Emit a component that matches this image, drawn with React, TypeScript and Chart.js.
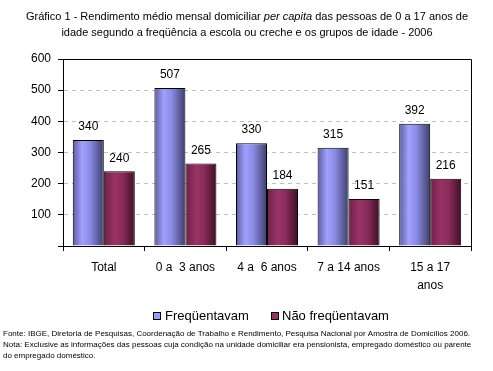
import React, { useEffect, useRef } from "react";
import { Chart, registerables } from "chart.js";
Chart.register(...registerables);

const categories: (string | string[])[] = ["Total", "0 a  3 anos", "4 a  6 anos", "7 a 14 anos", ["15 a 17", "anos"]];
const frequentavam = [340, 507, 330, 315, 392];
const naoFrequentavam = [240, 265, 184, 151, 216];
const seriesNames = ["Freqüentavam", "Não freqüentavam"];
const yMin = 0;
const yMax = 600;
const yStep = 100;
const titleLine1 = ["Gráfico 1 - Rendimento médio mensal domiciliar ", "per capita", " das pessoas de 0 a 17 anos de"];
const titleLine2 = "idade segundo a freqüência a escola ou creche e os grupos de idade - 2006";
const footerLines = [
  "Fonte: IBGE, Diretoria de Pesquisas, Coordenação de Trabalho e Rendimento, Pesquisa Nacional por Amostra de Domicílios 2006.",
  "Nota: Exclusive as informações das pessoas cuja condição na unidade domiciliar era pensionista, empregado doméstico ou parente",
  "do empregado doméstico.",
];

const FONT = "'Liberation Sans', Arial, sans-serif";
const CAT_PCT = 0.76;
const blueStops: [number, string][] = [[0, "#5c5c9c"], [0.3, "#a0a0ff"], [0.55, "#8c8ce6"], [1, "#3e3e6c"]];
const redStops: [number, string][] = [[0, "#6e2048"], [0.35, "#993366"], [0.6, "#8a2c5a"], [1, "#3e0f28"]];
const blueLegend = "#9999ff";
const redLegend = "#993366";

function barGradient(c: any, dsIndex: number, stops: [number, string][]) {
  const chart = c.chart;
  const xs = chart.scales && chart.scales.x;
  if (!xs || c.dataIndex === undefined) return stops[1][1];
  const n = categories.length;
  const catW = (xs.right - xs.left) / n;
  const w = (catW * CAT_PCT) / 2;
  const center = xs.getPixelForValue(c.dataIndex);
  const left = dsIndex === 0 ? center - w : center;
  if (!isFinite(left) || !isFinite(w) || w <= 0) return stops[1][1];
  const g = chart.ctx.createLinearGradient(left, 0, left + w, 0);
  stops.forEach(([o, col]) => g.addColorStop(o, col));
  return g;
}

const decorPlugin = {
  id: "decor",
  afterDatasetsDraw(chart: any) {
    const ctx = chart.ctx;
    ctx.save();
    ctx.fillStyle = "#000";
    ctx.font = `12px ${FONT}`;
    ctx.textAlign = "center";
    ctx.textBaseline = "middle";
    chart.data.datasets.forEach((ds: any, di: number) => {
      const meta = chart.getDatasetMeta(di);
      meta.data.forEach((bar: any, i: number) => {
        ctx.fillText(String(ds.data[i]), bar.x, bar.y - 13);
      });
    });
    ctx.restore();
  },
  afterDraw(chart: any) {
    const ctx = chart.ctx;
    const a = chart.chartArea;
    ctx.save();
    ctx.strokeStyle = "#000";
    ctx.lineWidth = 1;
    ctx.beginPath();
    ctx.moveTo(a.left, a.top + 0.5);
    ctx.lineTo(a.right + 0.5, a.top + 0.5);
    ctx.lineTo(a.right + 0.5, a.bottom);
    ctx.stroke();

    ctx.fillStyle = "#000";
    ctx.textBaseline = "middle";
    ctx.textAlign = "left";
    const normal = `11px ${FONT}`;
    const italic = `italic 11px ${FONT}`;
    const widths = titleLine1.map((s, i) => {
      ctx.font = i === 1 ? italic : normal;
      return ctx.measureText(s).width;
    });
    const total = widths.reduce((p, q) => p + q, 0);
    let x = 247 - total / 2;
    titleLine1.forEach((s, i) => {
      ctx.font = i === 1 ? italic : normal;
      ctx.fillText(s, x, 17);
      x += widths[i];
    });
    ctx.font = normal;
    ctx.textAlign = "center";
    ctx.fillText(titleLine2, 247, 33);

    ctx.textAlign = "left";
    ctx.font = `13px ${FONT}`;
    const items = [
      { box: 153, text: 165, color: blueLegend, label: seriesNames[0] },
      { box: 271, text: 282, color: redLegend, label: seriesNames[1] },
    ];
    items.forEach((it) => {
      ctx.fillStyle = it.color;
      ctx.fillRect(it.box, 312, 7, 7);
      ctx.strokeStyle = "#000";
      ctx.strokeRect(it.box + 0.5, 312.5, 7, 7);
      ctx.fillStyle = "#000";
      ctx.fillText(it.label, it.text, 316);
    });

    ctx.font = `8px ${FONT}`;
    ctx.fillText(footerLines[0], 3, 334, 472);
    ctx.fillText(footerLines[1], 3, 345, 475);
    ctx.fillText(footerLines[2], 3, 356);
    ctx.restore();
  },
};

export default function App() {
  const ref = useRef<HTMLCanvasElement | null>(null);
  useEffect(() => {
    if (!ref.current) return;
    const chart = new Chart(ref.current, {
      type: "bar",
      data: {
        labels: categories as any,
        datasets: [
          {
            label: seriesNames[0],
            data: frequentavam,
            backgroundColor: (c: any) => barGradient(c, 0, blueStops),
            borderColor: "#000",
            borderWidth: 1,
            categoryPercentage: CAT_PCT,
            barPercentage: 1,
          },
          {
            label: seriesNames[1],
            data: naoFrequentavam,
            backgroundColor: (c: any) => barGradient(c, 1, redStops),
            borderColor: "#000",
            borderWidth: 1,
            categoryPercentage: CAT_PCT,
            barPercentage: 1,
          },
        ],
      },
      options: {
        animation: false,
        responsive: false,
        devicePixelRatio: 1,
        layout: { padding: { top: 59, right: 22, bottom: 65, left: 23 } },
        plugins: {
          legend: { display: false },
          title: { display: false },
          tooltip: { enabled: false },
        },
        scales: {
          x: {
            grid: { offset: true, drawOnChartArea: false, tickLength: 5, color: "#000", tickColor: "#000" },
            border: { color: "#000", width: 1 },
            ticks: {
              color: "#000",
              font: { family: FONT, size: 12, lineHeight: 1.5 },
              padding: 8,
              maxRotation: 0,
              autoSkip: false,
            },
            afterFit: (s: any) => {
              s.height = 60;
            },
          },
          y: {
            min: yMin,
            max: yMax,
            grid: {
              color: (c: any) =>
                c.tick && (c.tick.value === yMin || c.tick.value === yMax) ? "rgba(0,0,0,0)" : "#c0c0c0",
              tickColor: "#000",
              tickLength: 5,
            },
            border: { color: "#000", width: 1, dash: [4, 4] },
            ticks: {
              stepSize: yStep,
              color: "#000",
              padding: 7,
              font: { family: FONT, size: 12 },
              callback: (v: any) => (v === 0 ? "" : String(v)),
            },
            afterFit: (s: any) => {
              s.width = 40;
            },
          },
        },
      },
      plugins: [decorPlugin],
    });
    return () => chart.destroy();
  }, []);
  return (
    <div style={{ position: "fixed", left: 0, top: 0, width: 493, height: 371, background: "#fff" }}>
      <canvas ref={ref} width={493} height={371} style={{ display: "block" }} />
    </div>
  );
}
